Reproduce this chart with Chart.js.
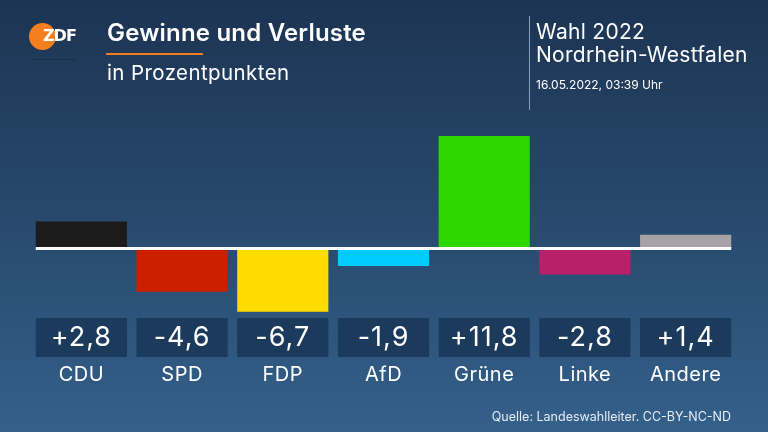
<!DOCTYPE html>
<html lang="de">
<head>
<meta charset="utf-8">
<script src="https://cdn.jsdelivr.net/npm/chart.js@4/dist/chart.umd.min.js"></script>
<style>
  html, body { margin: 0; padding: 0; }
  body { width: 768px; height: 432px; overflow: hidden; font-family: Inter, "Noto Sans", sans-serif; color: #fff; }
  #wrap {
    position: relative; width: 768px; height: 432px;
    background: linear-gradient(180deg, #1d3453 0%, #26476a 45%, #34608a 100%);
  }
  #chart { position: absolute; left: 0; top: 0; }
  .t { position: absolute; white-space: nowrap; color: #fff; }
  #logo { position: absolute; left: 29px; top: 23px; width: 27px; height: 27px; border-radius: 50%; background: #f47f1f; }
  #logoTxt { position: absolute; left: 43px; top: 26px; font: bold 16px "DejaVu Sans", sans-serif; letter-spacing: -1px; color: #fff; }
  #logoLine { position: absolute; left: 33px; top: 59px; width: 44px; height: 1px; background: #16304d; }
  #title { left: 107px; top: 18px; font-size: 24px; font-weight: 600; letter-spacing: 0.2px; }
  #uline { position: absolute; left: 106px; top: 53px; width: 97px; height: 2px; background: #f07d19; }
  #sub { left: 107px; top: 60px; font-size: 20.5px; letter-spacing: 0.4px; }
  #vline { position: absolute; left: 529px; top: 16px; width: 1px; height: 94px; background: #8aa0b8; }
  #wahl { left: 536px; top: 19px; font-size: 21px; letter-spacing: 0.3px; }
  #land { left: 536px; top: 42px; font-size: 21px; letter-spacing: 0.3px; }
  #date { left: 536px; top: 77px; font-size: 12px; }
  #src { right: 37px; top: 409px; font-size: 12.5px; color: #e6edf4; }
</style>
</head>
<body>
<div id="wrap">
  <canvas id="chart" width="768" height="432"></canvas>
  <div id="logo"></div><div id="logoTxt">ZDF</div><div id="logoLine"></div>
  <div class="t" id="title">Gewinne und Verluste</div>
  <div id="uline"></div>
  <div class="t" id="sub">in Prozentpunkten</div>
  <div id="vline"></div>
  <div class="t" id="wahl">Wahl 2022</div>
  <div class="t" id="land">Nordrhein-Westfalen</div>
  <div class="t" id="date">16.05.2022, 03:39 Uhr</div>
  <div class="t" id="src">Quelle: Landeswahlleiter. CC-BY-NC-ND</div>
</div>
<script>
const parties = ['CDU', 'SPD', 'FDP', 'AfD', 'Grüne', 'Linke', 'Andere'];
const changes = [2.8, -4.6, -6.7, -1.9, 11.8, -2.8, 1.4];
const partyColors = ['#1b1b1b', '#cc1f00', '#ffdc00', '#00ccff', '#2fd600', '#b9206a', '#a5a3a5'];

const fmt = (v) => (v > 0 ? '+' : '') + v.toFixed(1).replace('.', ',');

// zero line, value boxes and party names under the bars
const extras = {
  id: 'extras',
  afterDatasetsDraw(chart) {
    const { ctx, scales: { x, y } } = chart;
    const meta = chart.getDatasetMeta(0);
    const first = meta.data[0], last = meta.data[meta.data.length - 1];
    const y0 = y.getPixelForValue(0);
    ctx.save();
    ctx.fillStyle = '#ffffff';
    ctx.fillRect(first.x - first.width / 2, y0 - 1, (last.x + last.width / 2) - (first.x - first.width / 2), 3);

    meta.data.forEach((bar, i) => {
      const left = bar.x - bar.width / 2;
      ctx.fillStyle = '#1c3a5c';
      ctx.fillRect(left, 318, bar.width, 39);
      ctx.fillStyle = '#ffffff';
      ctx.textAlign = 'center';
      ctx.textBaseline = 'middle';
      ctx.font = '27px Inter, sans-serif';
      ctx.letterSpacing = '1px';
      ctx.fillText(fmt(changes[i]), x.getPixelForValue(i), 338);
      ctx.font = '20px Inter, sans-serif';
      ctx.letterSpacing = '0.5px';
      ctx.fillText(parties[i], x.getPixelForValue(i), 375);
    });
    ctx.restore();
  }
};

new Chart(document.getElementById('chart').getContext('2d'), {
  type: 'bar',
  data: {
    labels: parties,
    datasets: [{
      data: changes,
      backgroundColor: partyColors,
      borderWidth: 0,
      barPercentage: 0.905,
      categoryPercentage: 1.0,
    }],
  },
  options: {
    responsive: false,
    animation: false,
    layout: { padding: { left: 31, right: 32, top: 134, bottom: 108 } },
    plugins: { legend: { display: false }, tooltip: { enabled: false } },
    scales: {
      x: { display: false },
      y: { display: false, min: -8, max: 12 },
    },
  },
  plugins: [extras],
});
</script>
</body>
</html>
